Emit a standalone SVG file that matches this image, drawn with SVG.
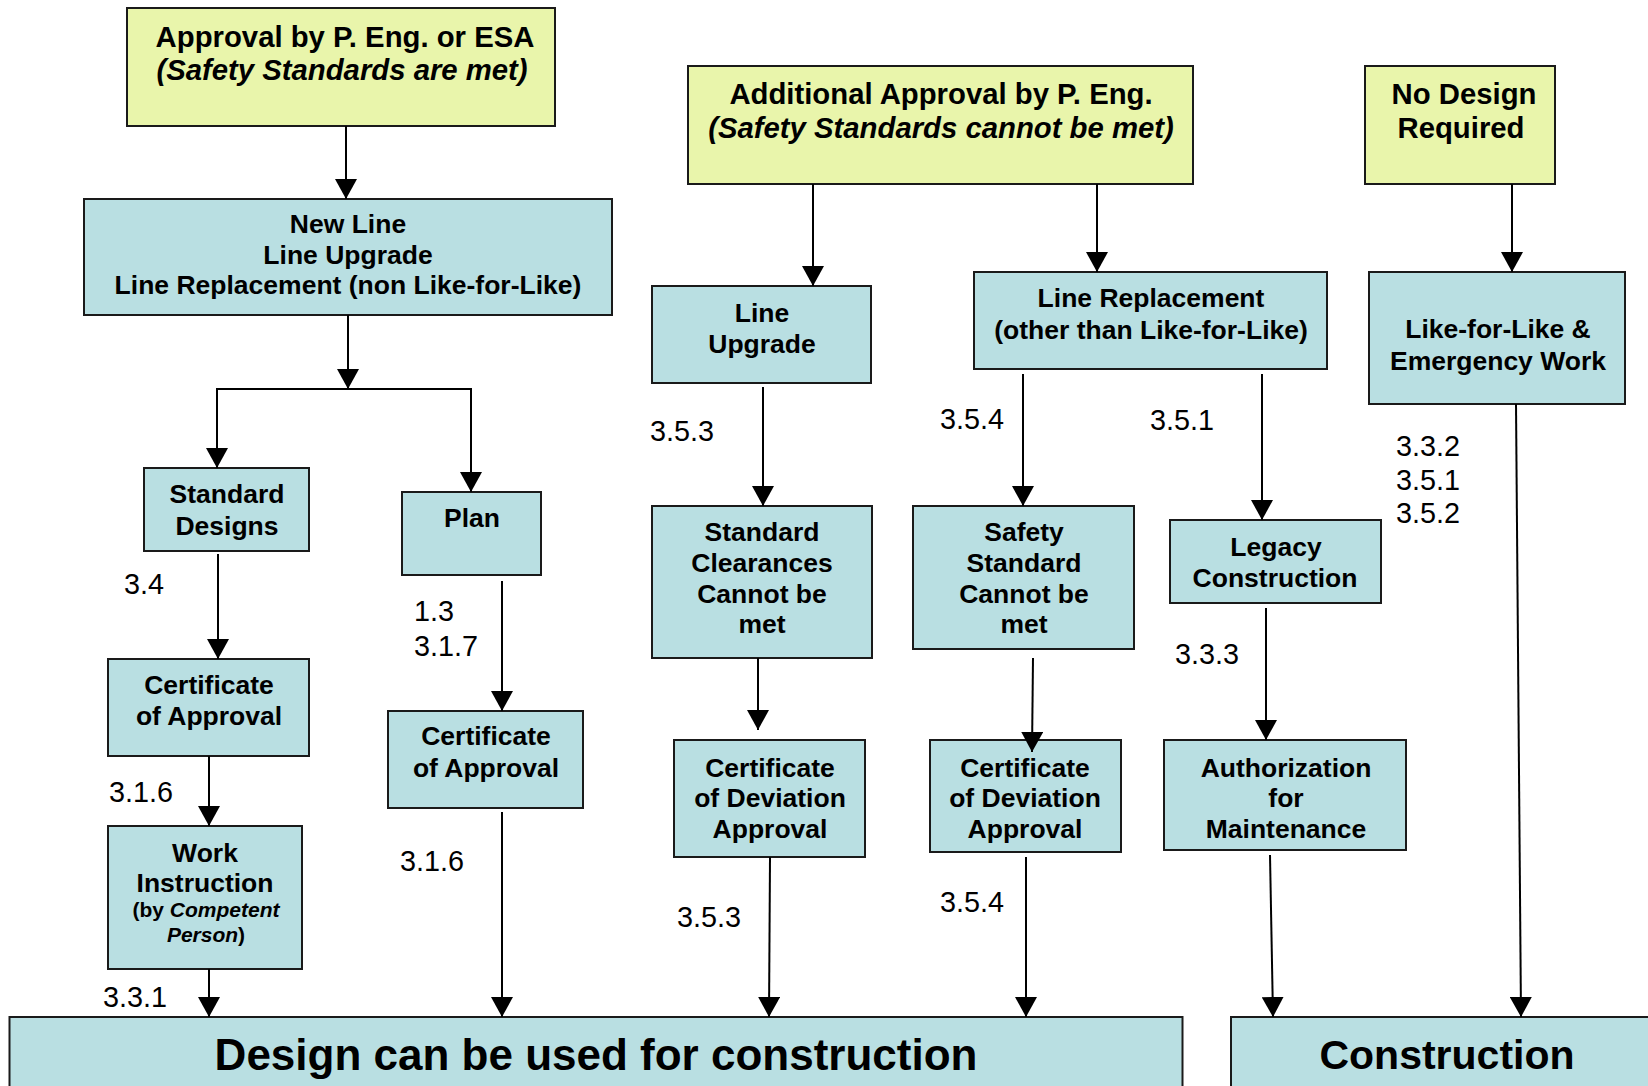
<svg xmlns="http://www.w3.org/2000/svg" width="1648" height="1086" viewBox="0 0 1648 1086">
<style>
.y{fill:#e9f5ab;stroke:#1a1a1a;stroke-width:2}
.b{fill:#b9dfe2;stroke:#1a1a1a;stroke-width:2}
.t{font-family:"Liberation Sans",Arial,Helvetica,sans-serif;font-weight:bold;font-size:26.5px;text-anchor:middle;fill:#000}
.ty{font-family:"Liberation Sans",Arial,Helvetica,sans-serif;font-weight:bold;font-size:29.3px;text-anchor:middle;fill:#000}
.i{font-style:italic}
.s{font-family:"Liberation Sans",Arial,Helvetica,sans-serif;font-weight:bold;font-size:21px;text-anchor:middle;fill:#000}
.big{font-family:"Liberation Sans",Arial,Helvetica,sans-serif;font-weight:bold;font-size:44px;text-anchor:middle;fill:#000}
.l{font-family:"Liberation Sans",Arial,Helvetica,sans-serif;font-size:28.8px;fill:#000}
.c{stroke:#000;stroke-width:2;fill:none}
.ca{stroke:#000;stroke-width:2;fill:none;marker-end:url(#ah)}
</style>
<defs>
<marker id="ah" markerWidth="22" markerHeight="22" refX="20" refY="11" orient="auto" markerUnits="userSpaceOnUse">
<path d="M0,0 L20,11 L0,22 z" fill="#000"/>
</marker>
</defs>
<rect width="1648" height="1086" fill="#fff"/>

<g id="approval-peng-esa">
<rect class="y" x="127" y="8" width="428" height="118"/>
<text class="ty" x="345" y="47">Approval by P. Eng. or ESA</text>
<text class="ty i" x="342" y="80">(Safety Standards are met)</text>
</g>
<g id="additional-approval">
<rect class="y" x="688" y="66" width="505" height="118"/>
<text class="ty" x="941" y="104">Additional Approval by P. Eng.</text>
<text class="ty i" x="941" y="138">(Safety Standards cannot be met)</text>
</g>
<g id="no-design">
<rect class="y" x="1365" y="66" width="190" height="118"/>
<text class="ty" x="1464" y="104">No Design</text>
<text class="ty" x="1461" y="138">Required</text>
</g>

<g id="new-line">
<rect class="b" x="84" y="199" width="528" height="116"/>
<text class="t" x="348" y="233">New Line</text>
<text class="t" x="348" y="264">Line Upgrade</text>
<text class="t" x="348" y="294">Line Replacement (non Like-for-Like)</text>
</g>
<g id="standard-designs">
<rect class="b" x="144" y="468" width="165" height="83"/>
<text class="t" x="227" y="503">Standard</text>
<text class="t" x="227" y="535">Designs</text>
</g>
<g id="plan">
<rect class="b" x="402" y="492" width="139" height="83"/>
<text class="t" x="472" y="527">Plan</text>
</g>
<g id="coa-left">
<rect class="b" x="108" y="659" width="201" height="97"/>
<text class="t" x="209" y="694">Certificate</text>
<text class="t" x="209" y="725">of Approval</text>
</g>
<g id="work-instruction">
<rect class="b" x="108" y="826" width="194" height="143"/>
<text class="t" x="205" y="862">Work</text>
<text class="t" x="205" y="892">Instruction</text>
<text class="s" x="206" y="917">(by <tspan class="i">Competent</tspan></text>
<text class="s" x="206" y="942"><tspan class="i">Person</tspan>)</text>
</g>
<g id="coa-right">
<rect class="b" x="388" y="711" width="195" height="97"/>
<text class="t" x="486" y="745">Certificate</text>
<text class="t" x="486" y="777">of Approval</text>
</g>

<g id="line-upgrade">
<rect class="b" x="652" y="286" width="219" height="97"/>
<text class="t" x="762" y="322">Line</text>
<text class="t" x="762" y="353">Upgrade</text>
</g>
<g id="std-clearances">
<rect class="b" x="652" y="506" width="220" height="152"/>
<text class="t" x="762" y="541">Standard</text>
<text class="t" x="762" y="572">Clearances</text>
<text class="t" x="762" y="603">Cannot be</text>
<text class="t" x="762" y="633">met</text>
</g>
<g id="cod-left">
<rect class="b" x="674" y="740" width="191" height="117"/>
<text class="t" x="770" y="777">Certificate</text>
<text class="t" x="770" y="807">of Deviation</text>
<text class="t" x="770" y="838">Approval</text>
</g>

<g id="line-replacement">
<rect class="b" x="974" y="272" width="353" height="97"/>
<text class="t" x="1151" y="307">Line Replacement</text>
<text class="t" x="1151" y="339">(other than Like-for-Like)</text>
</g>
<g id="safety-standard">
<rect class="b" x="913" y="506" width="221" height="143"/>
<text class="t" x="1024" y="541">Safety</text>
<text class="t" x="1024" y="572">Standard</text>
<text class="t" x="1024" y="603">Cannot be</text>
<text class="t" x="1024" y="633">met</text>
</g>
<g id="cod-right">
<rect class="b" x="930" y="740" width="191" height="112"/>
<text class="t" x="1025" y="777">Certificate</text>
<text class="t" x="1025" y="807">of Deviation</text>
<text class="t" x="1025" y="838">Approval</text>
</g>

<g id="legacy">
<rect class="b" x="1170" y="520" width="211" height="83"/>
<text class="t" x="1276" y="556">Legacy</text>
<text class="t" x="1275" y="587">Construction</text>
</g>
<g id="authorization">
<rect class="b" x="1164" y="740" width="242" height="110"/>
<text class="t" x="1286" y="777">Authorization</text>
<text class="t" x="1286" y="807">for</text>
<text class="t" x="1286" y="838">Maintenance</text>
</g>
<g id="like-for-like">
<rect class="b" x="1369" y="272" width="256" height="132"/>
<text class="t" x="1498" y="338">Like-for-Like &amp;</text>
<text class="t" x="1498" y="370">Emergency Work</text>
</g>

<g id="design-used">
<rect class="b" x="9.5" y="1017" width="1173" height="90"/>
<text class="big" x="596" y="1070">Design can be used for construction</text>
</g>
<g id="construction">
<rect class="b" x="1231" y="1017" width="430" height="90"/>
<text class="big" x="1447" y="1069" style="font-size:41px">Construction</text>
</g>

<g id="labels">
<text class="l" x="124" y="594">3.4</text>
<text class="l" x="414" y="621">1.3</text>
<text class="l" x="414" y="656">3.1.7</text>
<text class="l" x="109" y="802">3.1.6</text>
<text class="l" x="400" y="871">3.1.6</text>
<text class="l" x="103" y="1007">3.3.1</text>
<text class="l" x="650" y="441">3.5.3</text>
<text class="l" x="677" y="927">3.5.3</text>
<text class="l" x="940" y="429">3.5.4</text>
<text class="l" x="940" y="912">3.5.4</text>
<text class="l" x="1150" y="430">3.5.1</text>
<text class="l" x="1175" y="664">3.3.3</text>
<text class="l" x="1396" y="456">3.3.2</text>
<text class="l" x="1396" y="490">3.5.1</text>
<text class="l" x="1396" y="523">3.5.2</text>
</g>

<g id="connectors">
<line class="ca" x1="346" y1="126" x2="346" y2="199"/>
<line class="ca" x1="348" y1="315" x2="348" y2="389"/>
<line class="c" x1="216" y1="389" x2="472" y2="389"/>
<line class="ca" x1="217" y1="389" x2="217" y2="468"/>
<line class="ca" x1="471" y1="389" x2="471" y2="492"/>
<line class="ca" x1="218" y1="554" x2="218" y2="659"/>
<line class="ca" x1="209" y1="756" x2="209" y2="826"/>
<line class="ca" x1="209" y1="969" x2="209" y2="1017"/>
<line class="ca" x1="502" y1="581" x2="502" y2="711"/>
<line class="ca" x1="502" y1="812" x2="502" y2="1017"/>
<line class="ca" x1="813" y1="184" x2="813" y2="286"/>
<line class="ca" x1="1097" y1="184" x2="1097" y2="272"/>
<line class="ca" x1="763" y1="387" x2="763" y2="506"/>
<line class="ca" x1="758" y1="658" x2="758" y2="730"/>
<line class="ca" x1="770" y1="857" x2="769" y2="1017"/>
<line class="ca" x1="1023" y1="374" x2="1023" y2="506"/>
<line class="ca" x1="1262" y1="374" x2="1262" y2="520"/>
<line class="ca" x1="1033" y1="658" x2="1032" y2="752"/>
<line class="ca" x1="1026" y1="857" x2="1026" y2="1017"/>
<line class="ca" x1="1266" y1="608" x2="1266" y2="740"/>
<line class="ca" x1="1270" y1="855" x2="1273" y2="1017"/>
<line class="ca" x1="1512" y1="184" x2="1512" y2="272"/>
<line class="ca" x1="1516" y1="404" x2="1521" y2="1017"/>
</g>
</svg>
